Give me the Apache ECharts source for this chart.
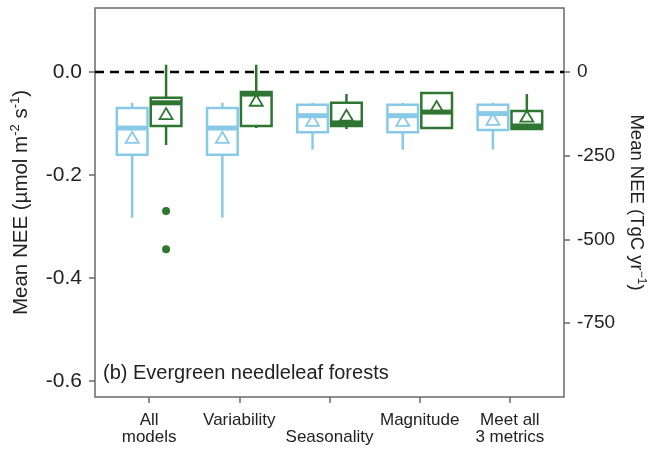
<!DOCTYPE html>
<html>
<head>
<meta charset="utf-8">
<script src="https://cdn.jsdelivr.net/npm/echarts@6/dist/echarts.min.js"></script>
<style>
html,body{margin:0;padding:0;background:#fff;}
#c{width:662px;height:450px;}
</style>
</head>
<body>
<div id="c"></div>
<script>
// ---- data ----
const categories = ['All models', 'Variability', 'Seasonality', 'Magnitude', 'Meet all 3 metrics'];
const tickLabels = ['All\nmodels', 'Variability', '\nSeasonality', 'Magnitude', 'Meet all\n3 metrics'];
const catPos = [1, 2, 3, 4, 5];

// all models (light blue)
const blueMin  = [-0.283, -0.283, -0.151, -0.151, -0.151];
const blueQ1   = [-0.161, -0.161, -0.117, -0.117, -0.113];
const blueMed  = [-0.109, -0.109, -0.085, -0.085, -0.081];
const blueQ3   = [-0.070, -0.070, -0.064, -0.064, -0.064];
const blueMax  = [-0.060, -0.060, -0.060, -0.060, -0.060];
const blueMean = [-0.128, -0.128, -0.095, -0.095, -0.093];

// selected models (dark green)
const greenMin  = [-0.142, -0.109, -0.111, -0.109, -0.111];
const greenQ1   = [-0.105, -0.105, -0.105, -0.109, -0.111];
const greenMed  = [-0.060, -0.043, -0.099, -0.078, -0.105];
const greenQ3   = [-0.050, -0.039, -0.060, -0.041, -0.076];
const greenMax  = [0.014, 0.014, -0.043, -0.041, -0.043];
const greenMean = [-0.082, -0.056, -0.085, -0.068, -0.087];
const greenOutlierCat = [1, 1];
const greenOutlierVal = [-0.270, -0.344];

const leftTicks = [-0.6, -0.4, -0.2, 0];
const rightTicks = [-750, -500, -250, 0];

// ---- styling ----
const BLUE = '#88C9E8';
const GREEN = '#2F7632';
const DODGE = 0.188;
const BOX_W = 0.34;

function boxData(mins, q1s, meds, q3s, maxs, means, off) {
  return catPos.map((c, i) => [c + off, mins[i], q1s[i], meds[i], q3s[i], maxs[i], means[i]]);
}

function makeRender(color) {
  return function (params, api) {
    const x = api.value(0);
    const pMin = api.coord([x, api.value(1)]);
    const pQ1 = api.coord([x, api.value(2)]);
    const pMed = api.coord([x, api.value(3)]);
    const pQ3 = api.coord([x, api.value(4)]);
    const pMax = api.coord([x, api.value(5)]);
    const pMean = api.coord([x, api.value(6)]);
    const hw = api.size([BOX_W, 0])[0] / 2;
    const cx = pQ1[0];
    const lw = 2.5;
    const children = [
      { type: 'line', shape: { x1: cx, y1: pQ3[1], x2: cx, y2: pMax[1] }, style: { stroke: color, lineWidth: lw } },
      { type: 'line', shape: { x1: cx, y1: pQ1[1], x2: cx, y2: pMin[1] }, style: { stroke: color, lineWidth: lw } },
      { type: 'rect', shape: { x: cx - hw, y: pQ3[1], width: hw * 2, height: pQ1[1] - pQ3[1] },
        style: { fill: '#fff', stroke: color, lineWidth: lw } },
      { type: 'polygon', shape: { points: [[cx, pMean[1] - 6], [cx - 6.5, pMean[1] + 5], [cx + 6.5, pMean[1] + 5]] },
        style: { fill: null, stroke: color, lineWidth: 1.8 } },
      { type: 'line', shape: { x1: cx - hw, y1: pMed[1], x2: cx + hw, y2: pMed[1] }, style: { stroke: color, lineWidth: 5 } }
    ];
    return { type: 'group', children: children };
  };
}

const chart = echarts.init(document.getElementById('c'), null, { renderer: 'canvas' });
const FONT = 'Liberation Sans, Arial, Helvetica, sans-serif';
const AXIS_COL = '#6a6a6a';

chart.setOption({
  animation: false,
  backgroundColor: '#fff',
  textStyle: { fontFamily: FONT },
  grid: { left: 95, right: 98, top: 8, bottom: 53, show: true, borderColor: AXIS_COL, borderWidth: 1.5, backgroundColor: 'transparent' },
  xAxis: {
    type: 'value', min: 0.4, max: 5.6, position: 'bottom',
    splitLine: { show: false },
    axisLine: { show: false, onZero: false },
    axisTick: { show: true, customValues: catPos, length: 6, lineStyle: { color: AXIS_COL, width: 1.5 } },
    axisLabel: {
      customValues: catPos, margin: 15, fontSize: 17, lineHeight: 17, color: '#222', fontFamily: FONT,
      formatter: function (v) { return tickLabels[Math.round(v) - 1]; }
    }
  },
  yAxis: [
    {
      type: 'value', min: -0.631, max: 0.124, position: 'left',
      splitLine: { show: false },
      axisLine: { show: false, onZero: false },
      axisTick: { show: true, customValues: leftTicks, length: 6, lineStyle: { color: AXIS_COL, width: 1.5 } },
      axisLabel: { customValues: leftTicks, margin: 13, fontSize: 21, color: '#222', fontFamily: FONT,
        formatter: function (v) { return v.toFixed(1); } },
      name: '{n|Mean NEE (µmol m}{s|-2}{n| s}{s|-1}{n|)}',
      nameLocation: 'middle', nameGap: 62,
      nameTextStyle: { rich: {
        n: { fontSize: 20.5, lineHeight: 24, color: '#222', fontFamily: FONT },
        s: { fontSize: 13, lineHeight: 13, verticalAlign: 'top', color: '#222', fontFamily: FONT }
      } }
    },
    {
      type: 'value', min: -970.6, max: 190.7, position: 'right',
      splitLine: { show: false },
      axisLine: { show: false, onZero: false },
      axisTick: { show: true, customValues: rightTicks, length: 6, lineStyle: { color: AXIS_COL, width: 1.5 } },
      axisLabel: { customValues: rightTicks, margin: 13, fontSize: 19, color: '#222', fontFamily: FONT,
        formatter: function (v) { return String(v); } },
      name: '{n|Mean NEE (TgC yr}{s|−1}{n|)}',
      nameLocation: 'middle', nameGap: 61, nameRotate: -90,
      nameTextStyle: { rich: {
        n: { fontSize: 18.5, lineHeight: 22, color: '#222', fontFamily: FONT },
        s: { fontSize: 12, lineHeight: 12, verticalAlign: 'top', color: '#222', fontFamily: FONT }
      } }
    }
  ],
  graphic: [
    { type: 'text', left: 103, top: 363, z: 10,
      style: { text: '(b) Evergreen needleleaf forests', font: '20px ' + FONT, fill: '#222' } }
  ],
  series: [
    {
      type: 'line', z: 1, symbol: 'none', silent: true,
      data: [[0.4, 0], [5.6, 0]],
      lineStyle: { color: '#000', width: 2.5, type: [9, 6] }
    },
    {
      type: 'custom', name: 'All models', z: 3,
      renderItem: makeRender(BLUE),
      encode: { x: 0, y: [1, 2, 3, 4, 5, 6] },
      data: boxData(blueMin, blueQ1, blueMed, blueQ3, blueMax, blueMean, -DODGE)
    },
    {
      type: 'custom', name: 'Selected', z: 3,
      renderItem: makeRender(GREEN),
      encode: { x: 0, y: [1, 2, 3, 4, 5, 6] },
      data: boxData(greenMin, greenQ1, greenMed, greenQ3, greenMax, greenMean, DODGE)
    },
    {
      type: 'scatter', z: 4, symbol: 'circle', symbolSize: 8,
      itemStyle: { color: GREEN, opacity: 1 },
      data: greenOutlierCat.map((c, i) => [c + DODGE, greenOutlierVal[i]])
    }
  ]
});
</script>
</body>
</html>
